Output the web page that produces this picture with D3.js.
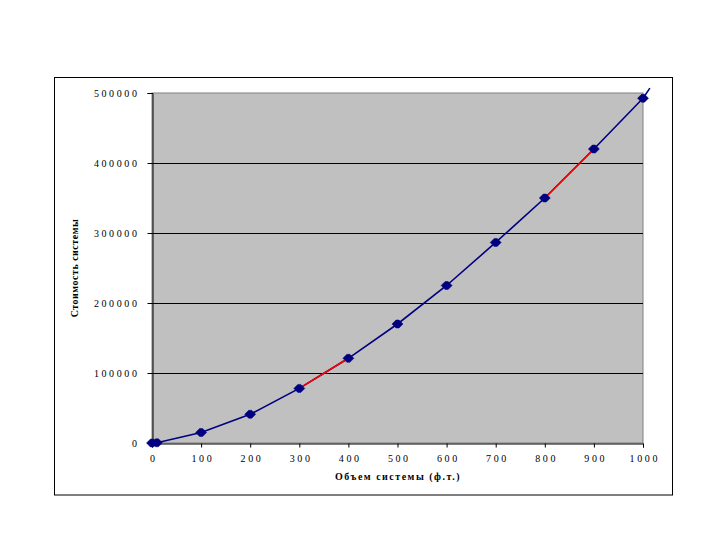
<!DOCTYPE html>
<html><head><meta charset="utf-8">
<script src="https://cdn.jsdelivr.net/npm/d3@7"></script>
<style>body{margin:0;background:#fff}</style>
</head><body>
<svg id="c" width="720" height="540"></svg>
<script>
const volumes = [0, 10, 100, 200, 300, 400, 500, 600, 700, 800, 900, 1000];
const costs   = [0, 300, 15000, 41000, 78000, 121000, 170000, 225000, 286500, 350000, 420000, 492500];
const redSegments = [[300, 400], [800, 900]];
const extension = {volume: 1014, cost: 507000};
const xTicks = [0,100,200,300,400,500,600,700,800,900,1000];
const yTicks = [0,100000,200000,300000,400000,500000];
const xTitle = "Объем системы (ф.т.)";
const yTitle = "Стоимость системы";

const svg = d3.select("#c");
const L=152, R=643, T=93, B=443;
const x = d3.scaleLinear().domain([0,1000]).range([L,R]);
const y = d3.scaleLinear().domain([0,500000]).range([B,T]);

svg.append("rect").attr("x",54.5).attr("y",77.5).attr("width",618).attr("height",417.5)
  .attr("fill","#fff").attr("stroke","#000").attr("stroke-width",1);
svg.append("rect").attr("x",L).attr("y",T).attr("width",R-L).attr("height",B-T)
  .attr("fill","#c0c0c0").attr("stroke","#808080").attr("stroke-width",1);

svg.append("g").selectAll("line").data(yTicks.slice(1,-1)).join("line")
  .attr("x1",L).attr("x2",R).attr("y1",d=>Math.round(y(d))+0.5).attr("y2",d=>Math.round(y(d))+0.5)
  .attr("stroke","#000").attr("stroke-width",1);

const font = "'Liberation Serif', 'Times New Roman', serif";
const yAxis = svg.append("g").attr("transform",`translate(${L+0.5},0)`)
  .call(d3.axisLeft(y).tickValues(yTicks).tickSize(5).tickPadding(8).tickFormat(d3.format("d")));
const xAxis = svg.append("g").attr("transform",`translate(0,${B+0.5})`)
  .call(d3.axisBottom(x).tickValues(xTicks).tickSize(4).tickPadding(7).tickFormat(d3.format("d")));
[yAxis,xAxis].forEach(a=>{
  a.select(".domain").attr("stroke","#000").attr("stroke-width",1);
  a.selectAll(".tick line").attr("stroke","#000");
  a.selectAll("text").attr("font-family",font).attr("font-size",10).attr("fill","#000")
   .attr("letter-spacing","2.6px");
});
xAxis.selectAll("text").attr("dx","1.3px");

const pts = volumes.map((v,i)=>({v, c:costs[i]}));
const line = d3.line().x(d=>x(d.v)).y(d=>y(d.c));
svg.append("path").datum(pts)
  .attr("d",line).attr("fill","none").attr("stroke","#000080").attr("stroke-width",1.6);
svg.append("path").datum([pts[pts.length-1],{v:extension.volume,c:extension.cost}])
  .attr("d",line).attr("fill","none").attr("stroke","#000080").attr("stroke-width",1.6);
redSegments.forEach(([a,b])=>{
  const seg = pts.filter(p=>p.v>=a && p.v<=b);
  svg.append("path").datum(seg).attr("d",line)
    .attr("fill","none").attr("stroke","#ff0000").attr("stroke-width",1.6);
});
const diamond = "M-5.5,0L-1.5,-4L1.5,-4L5.5,0L1.5,4L-1.5,4Z";
svg.append("g").selectAll("path").data(pts).join("path")
  .attr("d",diamond)
  .attr("transform",d=>`translate(${x(d.v)},${y(d.c)})`)
  .attr("fill","#000080").attr("stroke","#000080").attr("stroke-width",0.5);

svg.append("text").attr("x",398).attr("y",480).attr("text-anchor","middle")
  .attr("font-family",font).attr("font-size",10).attr("font-weight","bold").attr("letter-spacing","1.5px")
  .text(xTitle);
svg.append("text").attr("transform","translate(78,268) rotate(-90)").attr("text-anchor","middle")
  .attr("font-family",font).attr("font-size",10).attr("font-weight","bold").attr("letter-spacing","0.5px")
  .text(yTitle);
</script>
</body></html>
